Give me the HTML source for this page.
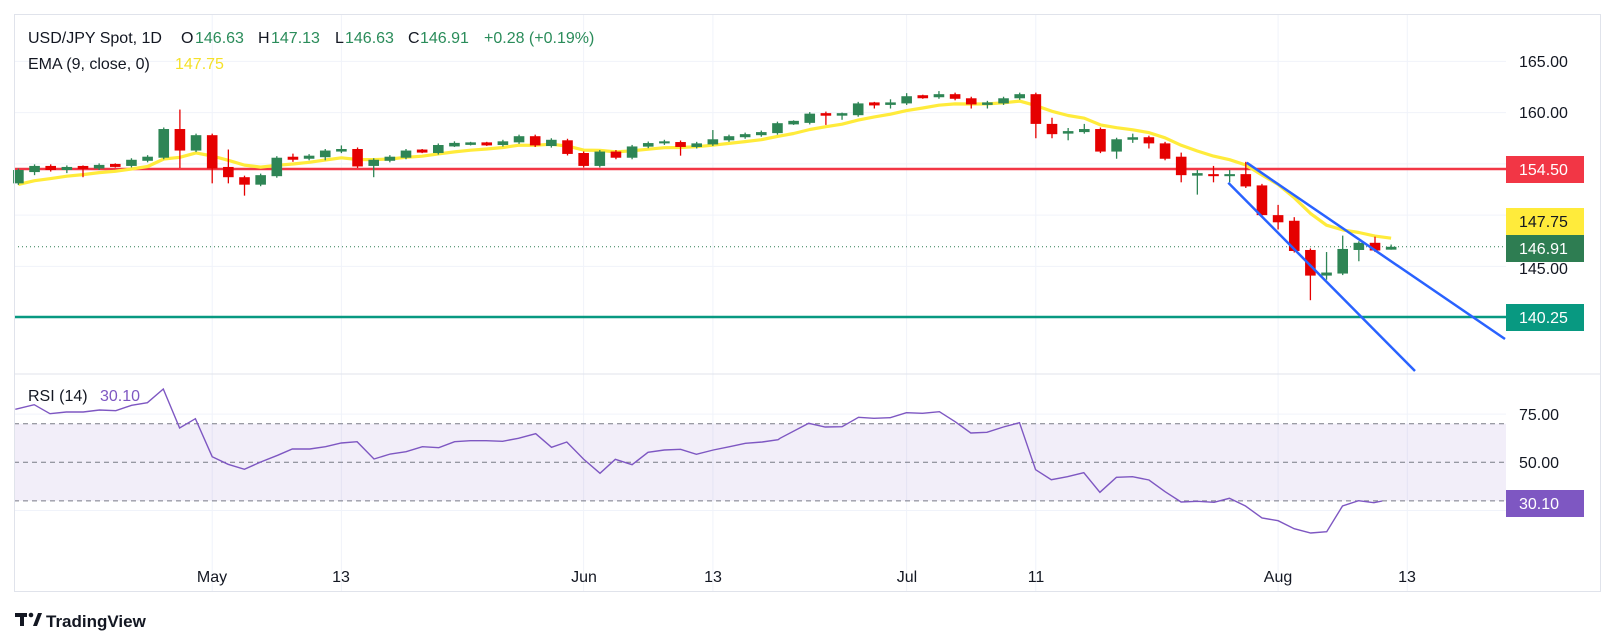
<!DOCTYPE html>
<html><head><meta charset="utf-8"><style>
html,body{margin:0;padding:0;background:#fff;}
svg{display:block;font-family:"Liberation Sans",sans-serif;}
</style></head><body>
<svg id="s" width="1601" height="644" viewBox="0 0 1601 644" xmlns="http://www.w3.org/2000/svg">
<rect x="0" y="0" width="1601" height="644" fill="#fff"/>
<g id="g"></g>
<rect x="14.5" y="14.5" width="1586" height="577" fill="none" stroke="#e0e3eb"/>
<line x1="14" y1="374" x2="1601" y2="374" stroke="#e0e3eb"/>
<text x="28" y="43" font-size="16" fill="#131722">USD/JPY Spot, 1D</text>
<text x="181" y="43" font-size="16" fill="#131722">O</text><text x="195" y="43" font-size="16" fill="#2a8c5a">146.63</text>
<text x="258" y="43" font-size="16" fill="#131722">H</text><text x="271" y="43" font-size="16" fill="#2a8c5a">147.13</text>
<text x="335" y="43" font-size="16" fill="#131722">L</text><text x="345" y="43" font-size="16" fill="#2a8c5a">146.63</text>
<text x="408" y="43" font-size="16" fill="#131722">C</text><text x="420" y="43" font-size="16" fill="#2a8c5a">146.91</text>
<text x="484" y="43" font-size="16" fill="#2a8c5a">+0.28 (+0.19%)</text>
<text x="28" y="69" font-size="16" fill="#131722">EMA (9, close, 0)</text>
<text x="175" y="69" font-size="16" fill="#f5e12a">147.75</text>
<text x="28" y="401" font-size="16" fill="#131722">RSI (14)</text>
<text x="100" y="401" font-size="16" fill="#7e57c2">30.10</text>
<g font-size="16" fill="#131722" text-anchor="middle">
<text x="212" y="582">May</text><text x="341" y="582">13</text><text x="584" y="582">Jun</text><text x="713" y="582">13</text><text x="907" y="582">Jul</text><text x="1036" y="582">11</text><text x="1278" y="582">Aug</text><text x="1407" y="582">13</text>
</g>
<g font-size="16" fill="#131722">
<text x="1519" y="67">165.00</text><text x="1519" y="118">160.00</text><text x="1519" y="274">145.00</text>
<text x="1519" y="420">75.00</text><text x="1519" y="468">50.00</text><text x="1519" y="516">25.00</text>
</g>
<rect x="1506" y="156" width="78" height="27" fill="#f23645"/><text x="1519" y="175" font-size="16" fill="#fff">154.50</text>
<rect x="1506" y="208" width="78" height="27" fill="#ffeb3b"/><text x="1519" y="227" font-size="16" fill="#131722">147.75</text>
<rect x="1506" y="235" width="78" height="27" fill="#2e7d52"/><text x="1519" y="254" font-size="16" fill="#fff">146.91</text>
<rect x="1506" y="304" width="78" height="27" fill="#089981"/><text x="1519" y="323" font-size="16" fill="#fff">140.25</text>
<rect x="1506" y="490" width="78" height="27" fill="#7e57c2"/><text x="1519" y="509" font-size="16" fill="#fff">30.10</text>
<g fill="#131722">
<rect x="15" y="613" width="12" height="4"/><rect x="20" y="613" width="4" height="13"/>
<circle cx="31" cy="615" r="2.3"/><polygon points="33,626 38,613 42,613 37,626"/>
<text x="46" y="627" font-size="17" font-weight="bold">TradingView</text>
</g>
</svg>
<script>
var D=[
[153.1,154.4],[154.2,154.8,null,153.9],[154.8,154.4],[154.4,154.7,null,154.1],[154.7,154.6,null,153.7],[154.55,154.9],[154.9,154.8],[154.8,155.4],[155.3,155.7],[155.6,158.4],
[158.4,156.3,160.3,154.6],[156.3,157.8],[157.8,154.55,null,153.1],[154.7,153.7,156.4,153.1],[153.7,152.97,null,151.9],[152.97,153.9],[153.8,155.6],[155.6,155.5,156.0,155.2],[155.5,155.8],[155.65,156.3,null,155.35],
[156.2,156.45,156.8],[156.45,154.75],[154.8,155.4,null,153.7],[155.3,155.7],[155.6,156.3],[156.3,156.2],[156.06,156.84],[156.8,156.95,157.2],[156.95,157.0],[157.0,156.9],
[156.84,157.2],[157.1,157.7],[157.7,156.8],[156.74,157.35],[157.3,155.97],[156.06,154.8],[154.8,156.2],[156.2,155.6],[155.6,156.7],[156.68,157.03],
[157.0,157.2],[157.13,156.65,null,155.8],[156.65,157.0],[156.9,157.4,158.3],[157.3,157.7],[157.6,157.9],[157.8,158.1],[158.0,158.97],[158.95,159.1],
[159.0,159.9],[159.95,159.7,null,158.8],[159.8,159.85,160.0,159.3],[159.75,160.9],[160.9,160.8,null,160.4],[160.85,160.9,161.3,160.4],[160.9,161.6,161.9],[161.6,161.5],[161.5,161.8,162.1],[161.8,161.35],
[161.4,160.8,null,160.4],[160.85,160.9,161.15,160.4],[160.9,161.4],[161.4,161.8],[161.8,158.9,null,157.5],[158.9,157.9,159.5,157.5],[158.05,158.1,158.5,157.3],[158.1,158.4,158.9],[158.4,156.2],[156.2,157.4,null,155.5],
[157.45,157.5,157.95,157.05],[157.6,157.0,null,156.5],[157.0,155.5],[155.7,153.9,156.1,153.2],[153.95,154.0,154.4,152.0],[154.0,153.8,154.8,153.2],[153.8,154.0,154.4,153.2],[154.0,152.8,155.2],[152.9,150.0],[150.0,149.3,151.0,148.6],
[149.45,146.5,149.8],[146.6,144.1,null,141.7],[144.1,144.4,146.4,143.7],[144.3,146.7,148.0],[146.6,147.3,null,145.5],[147.3,146.55,147.9],[146.63,146.91,147.13,146.63]];
function X(i){return 212.2+16.15*(i-12);}
function Y(p){return 169+(154.5-p)*10.25;}
function R(v){return 462.3-(v-50)*1.927;}
var h='';
// grid
[61.4,112.6,163.9,215.1,266.4,317.6].forEach(function(y){h+='<line x1="14" x2="1506" y1="'+y+'" y2="'+y+'" stroke="#f0f3fa"/>';});
[212.2,341.4,583.6,712.9,906.6,1035.8,1278.1,1407.3].forEach(function(x){h+='<line x1="'+x+'" x2="'+x+'" y1="14" y2="591" stroke="#f0f3fa"/>';});
// RSI pane
h+='<rect x="14" y="423.8" width="1492" height="77" fill="#7e57c2" fill-opacity="0.1"/>';
[R(75),R(25)].forEach(function(y){h+='<line x1="14" x2="1506" y1="'+y+'" y2="'+y+'" stroke="#f0f3fa"/>';});
[R(70),R(50),R(30)].forEach(function(y){h+='<line x1="14" x2="1506" y1="'+y+'" y2="'+y+'" stroke="#787b86" stroke-dasharray="5,4"/>';});
// horizontal levels
h+='<line x1="14" x2="1506" y1="169" y2="169" stroke="#f23645" stroke-width="2.5"/>';
h+='<line x1="14" x2="1506" y1="317" y2="317" stroke="#089981" stroke-width="2.5"/>';
h+='<line x1="14" x2="1506" y1="'+Y(146.91)+'" y2="'+Y(146.91)+'" stroke="#2e7d52" stroke-dasharray="1,3"/>';
// EMA
var e=153.0,pts=[];
D.forEach(function(d,i){if(i>0)e=d[1]*0.2+e*0.8;pts.push(X(i).toFixed(1)+','+Y(e).toFixed(1));});
h+='<polyline points="'+pts.join(' ')+'" fill="none" stroke="#ffeb3b" stroke-width="3.2" stroke-linejoin="round"/>';
// candles
D.forEach(function(d,i){var o=d[0],c=d[1],hi=d[2]!=null?d[2]:Math.max(o,c)+0.15,lo=d[3]!=null?d[3]:Math.min(o,c)-0.15;
var col=c>=o?'#2e8555':'#e50000',x=X(i);
h+='<line x1="'+x+'" x2="'+x+'" y1="'+Y(hi)+'" y2="'+Y(lo)+'" stroke="'+col+'" stroke-width="1.3"/>';
var t=Y(Math.max(o,c)),b=Y(Math.min(o,c));if(b-t<2){t-=1;b+=1;}
h+='<rect x="'+(x-5.3)+'" y="'+t+'" width="10.6" height="'+(b-t)+'" fill="'+col+'"/>';});
// channel
h+='<line x1="1246.7" y1="162.7" x2="1505" y2="339" stroke="#2962ff" stroke-width="2.5"/>';
h+='<line x1="1228.3" y1="182.7" x2="1415" y2="371" stroke="#2962ff" stroke-width="2.5"/>';
// RSI
var A=[[30,118],[67,104],[98,131],[130,126],[163,126],[195,120],[227,122],[258,106],[289,98],[320,57],[352,174],[383,146],[416,260],[447,283],[479,298],[511,276],[544,256],[573,237],[607,237],[638,230],[669,219],[700,215],[733,267],[765,252],[796,245],[828,230],[860,233],[891,215],[922,212],[953,212],[985,214],[1016,205],[1050,191],[1081,232],[1111,216],[1144,268],[1176,310],[1206,268],[1239,284],[1270,247],[1302,240],[1334,238],[1365,253],[1398,240],[1430,230],[1461,220],[1494,216],[1525,209]];
var B=[[0,205],[75,160],[118,171],[162,170],[205,142],[245,145],[288,143],[330,128],[372,130],[416,125],[457,155],[498,189],[540,187],[583,171],[625,158],[667,299],[708,329],[750,320],[793,308],[835,367],[878,322],[920,320],[963,330],[1005,365],[1047,396],[1090,394],[1133,397],[1173,385],[1215,408],[1258,444],[1300,452],[1342,476],[1385,489],[1427,485],[1468,408],[1510,392],[1550,398],[1572,393]];
var rp=[];A.forEach(function(p){rp.push((p[0]/1.96).toFixed(1)+','+(370+p[1]/3).toFixed(1));});
B.forEach(function(p){rp.push((780+p[0]/2.61).toFixed(1)+','+(370+p[1]/3).toFixed(1));});
h+='<polyline points="'+rp.join(' ')+'" fill="none" stroke="#7e57c2" stroke-width="1.4"/>';
document.getElementById('g').innerHTML=h;
</script>
</body></html>
